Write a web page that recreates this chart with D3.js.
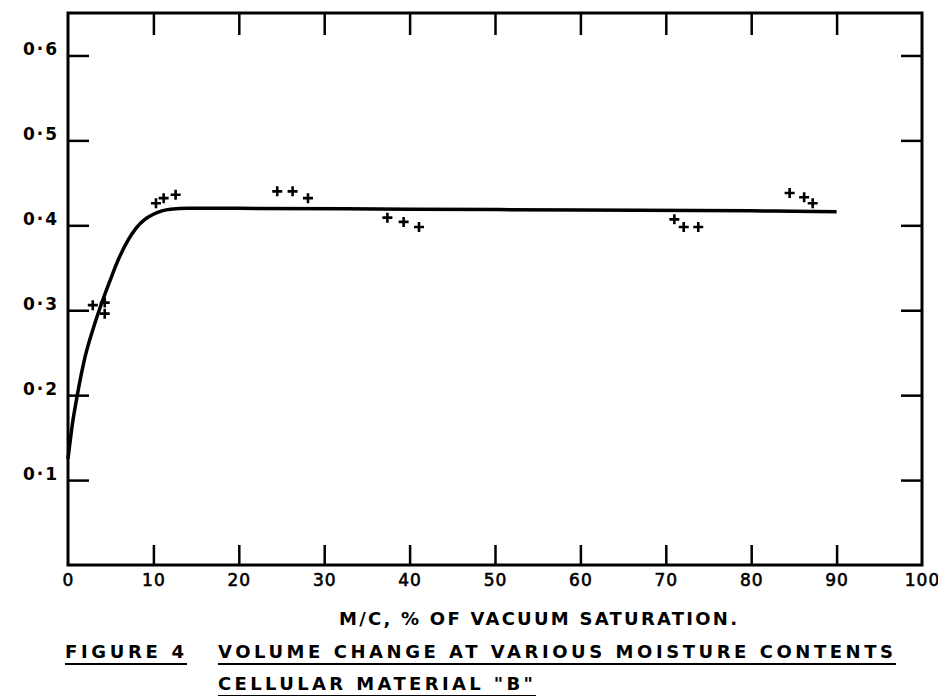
<!DOCTYPE html>
<meta charset="utf-8">
<script src="https://d3js.org/d3.v7.min.js"></script>
<style>
  body { margin: 0; background: #fff; }
  text { font-family: "DejaVu Sans", sans-serif; fill: #000; }
</style>
<div id="chart"></div>
<script>
    // tick values and labels
    var xTicks = [0, 10, 20, 30, 40, 50, 60, 70, 80, 90, 100];
    var yTicks = [0.1, 0.2, 0.3, 0.4, 0.5, 0.6];
    var yTickLabels = ["0·1", "0·2", "0·3", "0·4", "0·5", "0·6"];

    // fitted curve
    var curveX = [0, 0.5, 1, 2, 3, 4, 5, 6, 7, 8, 9, 10, 11, 12, 14, 20, 40, 60, 80, 90];
    var curveY = [0.125, 0.165, 0.195, 0.245, 0.28, 0.31, 0.337, 0.362, 0.382, 0.397, 0.407, 0.413, 0.417, 0.419, 0.42, 0.42, 0.419, 0.418, 0.417, 0.416];

    // measured points (+)
    var pointX = [2.9, 4.3, 4.3, 10.3, 11.2, 12.6, 24.5, 26.3, 28.1, 37.4, 39.3, 41.1, 71.0, 72.1, 73.8, 84.5, 86.2, 87.2];
    var pointY = [0.306, 0.309, 0.296, 0.426, 0.432, 0.436, 0.440, 0.440, 0.432, 0.409, 0.404, 0.398, 0.407, 0.398, 0.398, 0.438, 0.433, 0.426];

    var width = 938, height = 696;

    var svg = d3.select("#chart")
        .append("svg")
        .attr("width", width)
        .attr("height", height);

    var x = d3.scaleLinear().domain([0, 100]).range([68, 922]);
    var y = d3.scaleLinear().domain([0, 0.65]).range([565, 13]);

    // frame
    svg.append("rect")
        .attr("x", x(0))
        .attr("y", y(0.65))
        .attr("width", x(100) - x(0))
        .attr("height", y(0) - y(0.65))
        .attr("fill", "none")
        .attr("stroke", "#000")
        .attr("stroke-width", 3);

    // bottom axis: inward ticks + labels
    var axBottom = svg.append("g")
        .attr("transform", "translate(0," + y(0) + ")")
        .call(d3.axisBottom(x).tickValues(xTicks).tickSize(-20).tickSizeOuter(0).tickPadding(9));
    axBottom.select(".domain").remove();
    axBottom.selectAll("line").attr("stroke-width", 2.5)
        .filter(function (d) { return d === 0 || d === 100; }).remove();
    axBottom.selectAll("text")
        .style("font-size", "17px")
        .attr("letter-spacing", "1px")
        .attr("stroke", "#000")
        .attr("stroke-width", 0.6);

    // top axis: ticks only
    var axTop = svg.append("g")
        .attr("transform", "translate(0," + y(0.65) + ")")
        .call(d3.axisTop(x).tickValues(xTicks.slice(1, -1)).tickSize(-22).tickSizeOuter(0).tickFormat(""));
    axTop.select(".domain").remove();
    axTop.selectAll("line").attr("stroke-width", 2.5);

    // left axis with labels
    var axLeft = svg.append("g")
        .attr("transform", "translate(" + x(0) + ",0)")
        .call(d3.axisLeft(y).tickValues(yTicks).tickSize(-21).tickSizeOuter(0).tickPadding(9)
            .tickFormat(function (d, i) { return yTickLabels[i]; }));
    axLeft.select(".domain").remove();
    axLeft.selectAll("line").attr("stroke-width", 2.5);
    axLeft.selectAll("text")
        .style("font-size", "17px")
        .style("font-weight", "bold")
        .attr("dy", "-0.05em")
        .attr("letter-spacing", "2px");

    // right axis: ticks only
    var axRight = svg.append("g")
        .attr("transform", "translate(" + x(100) + ",0)")
        .call(d3.axisRight(y).tickValues(yTicks).tickSize(-21).tickSizeOuter(0).tickFormat(""));
    axRight.select(".domain").remove();
    axRight.selectAll("line").attr("stroke-width", 2.5);

    // curve
    var line = d3.line()
        .x(function (d) { return x(d[0]); })
        .y(function (d) { return y(d[1]); })
        .curve(d3.curveMonotoneX);

    svg.append("path")
        .datum(d3.zip(curveX, curveY))
        .attr("d", line)
        .attr("fill", "none")
        .attr("stroke", "#000")
        .attr("stroke-width", 3.5);

    // plus markers
    svg.append("g")
        .selectAll("path")
        .data(d3.zip(pointX, pointY))
        .enter()
        .append("path")
        .attr("transform", function (d) { return "translate(" + x(d[0]) + "," + y(d[1]) + ")"; })
        .attr("d", "M-5,0H5M0,-5V5")
        .attr("stroke", "#000")
        .attr("stroke-width", 2.6);

    // captions
    function caption(txt, x0, len, yb, underline) {
        svg.append("text")
            .attr("x", x0)
            .attr("y", yb)
            .attr("textLength", len)
            .attr("lengthAdjust", "spacing")
            .style("font-size", "18px")
            .style("font-weight", "bold")
            .text(txt);
        if (underline) {
            svg.append("line")
                .attr("x1", x0).attr("x2", x0 + len + 3)
                .attr("y1", yb + 6).attr("y2", yb + 6)
                .attr("stroke", "#000").attr("stroke-width", 2);
        }
    }

    caption("M/C, % OF VACUUM SATURATION.", 339, 398, 625, false);
    caption("FIGURE 4", 65, 119, 658, true);
    caption("VOLUME CHANGE AT VARIOUS MOISTURE CONTENTS", 218, 675, 658, true);
    caption("CELLULAR MATERIAL \"B\"", 218, 315, 690, true);
</script>
